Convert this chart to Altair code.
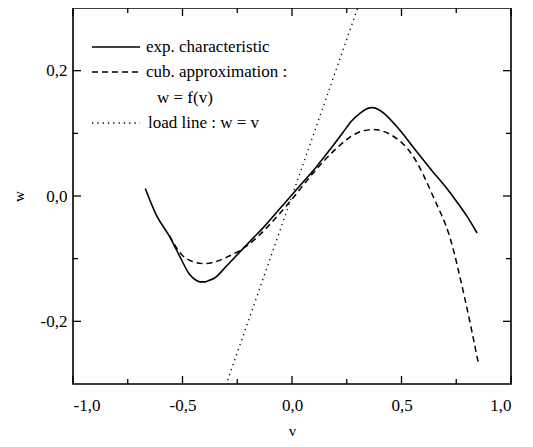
import altair as alt
import pandas as pd

# experimental characteristic (solid)
v_exp = [-0.67, -0.62, -0.56, -0.51, -0.47, -0.44, -0.42, -0.40, -0.38, -0.35, -0.30, -0.24, -0.18,
         -0.13, -0.05, 0.0, 0.05, 0.11, 0.18, 0.23, 0.27, 0.31, 0.34, 0.365, 0.39, 0.42, 0.49, 0.56,
         0.64, 0.70, 0.75, 0.80, 0.845]
w_exp = [0.012, -0.030, -0.064, -0.098, -0.124, -0.134, -0.137, -0.137, -0.135, -0.130, -0.112, -0.090, -0.068,
         -0.050, -0.018, 0.002, 0.022, 0.046, 0.077, 0.100, 0.119, 0.132, 0.139, 0.141, 0.139, 0.132, 0.106, 0.075,
         0.040, 0.015, -0.008, -0.033, -0.059]

# cubic approximation w = f(v) (dashed)
v_cub = [-0.56, -0.50, -0.45, -0.40, -0.35, -0.30, -0.20, -0.10, 0.0, 0.10, 0.20, 0.30, 0.37,
         0.45, 0.55, 0.65, 0.72, 0.79, 0.85]
w_cub = [-0.063, -0.095, -0.105, -0.108, -0.105, -0.098, -0.078, -0.045, -0.005, 0.038, 0.075, 0.101, 0.106,
         0.098, 0.065, -0.005, -0.065, -0.165, -0.265]

# load line w = v (dotted)
v_load = [-0.31, 0.31]
w_load = [-0.31, 0.31]

x_major = [-1.0, -0.5, 0.0, 0.5, 1.0]
x_minor = [-0.75, -0.25, 0.25, 0.75]
y_major = [-0.2, 0.0, 0.2]
y_minor = [-0.1, 0.1]

legend_labels = ["exp. characteristic", "cub. approximation :", "w = f(v)", "load line : w = v"]

W, H = 438, 376
FONT = "Times New Roman, Liberation Serif, DejaVu Serif, serif"
MAJ, MIN = 8, 5

xs = alt.Scale(domain=[-1.0, 1.0], nice=False, zero=False)
ys = alt.Scale(domain=[-0.3, 0.3], nice=False, zero=False)
lab = "replace(replace(format(datum.value, '.1f'), '.', ','), '\u2212', '-')"

x_axis = alt.Axis(values=x_major, labelExpr=lab, ticks=False, domain=False, grid=False,
                  labelPadding=13, titlePadding=10, title="v")
y_axis = alt.Axis(values=y_major, labelExpr=lab, ticks=False, domain=False, grid=False,
                  labelPadding=6, titlePadding=14, title="w")

exp_df = pd.DataFrame({"v": v_exp, "w": w_exp})
cub_df = pd.DataFrame({"v": v_cub, "w": w_cub})
load_df = pd.DataFrame({"v": v_load, "w": w_load})

base_lines = []
base_lines.append(
    alt.Chart(exp_df).mark_line(color="black", strokeWidth=1.6, interpolate="monotone", clip=True).encode(
        x=alt.X("v:Q", scale=xs, axis=x_axis), y=alt.Y("w:Q", scale=ys, axis=y_axis), order="v:Q")
)
base_lines.append(
    alt.Chart(cub_df).mark_line(color="black", strokeWidth=1.5, strokeDash=[6, 4], interpolate="monotone", clip=True).encode(
        x=alt.X("v:Q", scale=xs), y=alt.Y("w:Q", scale=ys), order="v:Q")
)
base_lines.append(
    alt.Chart(load_df).mark_line(color="black", strokeWidth=1.3, strokeDash=[1.3, 4], clip=True).encode(
        x=alt.X("v:Q", scale=xs), y=alt.Y("w:Q", scale=ys))
)

ticks = []
def xticks(vals, ln):
    d = pd.DataFrame({"v": vals})
    return [
        alt.Chart(d).mark_rule(color="black", strokeWidth=1.3).encode(
            x=alt.X("v:Q", scale=xs), y=alt.value(H), y2=alt.value(H - ln)),
        alt.Chart(d).mark_rule(color="black", strokeWidth=1.3).encode(
            x=alt.X("v:Q", scale=xs), y=alt.value(0), y2=alt.value(ln)),
    ]

def yticks(vals, ln):
    d = pd.DataFrame({"w": vals})
    return [
        alt.Chart(d).mark_rule(color="black", strokeWidth=1.3).encode(
            y=alt.Y("w:Q", scale=ys), x=alt.value(0), x2=alt.value(ln)),
        alt.Chart(d).mark_rule(color="black", strokeWidth=1.3).encode(
            y=alt.Y("w:Q", scale=ys), x=alt.value(W), x2=alt.value(W - ln)),
    ]

ticks += xticks(x_major, MAJ) + xticks(x_minor, MIN) + yticks(y_major, MAJ) + yticks(y_minor, MIN)

one = pd.DataFrame({"a": [0]})
leg = []
leg.append(alt.Chart(one).mark_rule(color="black", strokeWidth=1.6).encode(
    x=alt.value(19), x2=alt.value(67), y=alt.value(39)))
leg.append(alt.Chart(one).mark_rule(color="black", strokeWidth=1.5, strokeDash=[6, 4]).encode(
    x=alt.value(19), x2=alt.value(65), y=alt.value(64)))
leg.append(alt.Chart(one).mark_rule(color="black", strokeWidth=1.3, strokeDash=[1.3, 4]).encode(
    x=alt.value(19), x2=alt.value(67), y=alt.value(115)))

text_pos = [(73, 39), (73, 64), (84, 90), (75, 115)]
for label, (tx, ty) in zip(legend_labels, text_pos):
    leg.append(alt.Chart(pd.DataFrame({"t": [label]})).mark_text(
        align="left", baseline="middle", font=FONT, fontSize=17, color="black").encode(
        x=alt.value(tx), y=alt.value(ty), text="t:N"))

chart = alt.layer(*base_lines, *ticks, *leg).properties(
    width=W, height=H,
    padding={"left": 65, "top": 0, "right": 10, "bottom": 55},
    autosize=alt.AutoSizeParams(type="none"),
).configure_view(stroke="black", strokeWidth=1.6).configure_axis(
    labelFont=FONT, labelFontSize=17, labelColor="black",
    titleFont=FONT, titleFontSize=15, titleFontWeight="normal", titleColor="black",
)

chart.save("out.html", embed_options={"renderer": "svg", "actions": False})
